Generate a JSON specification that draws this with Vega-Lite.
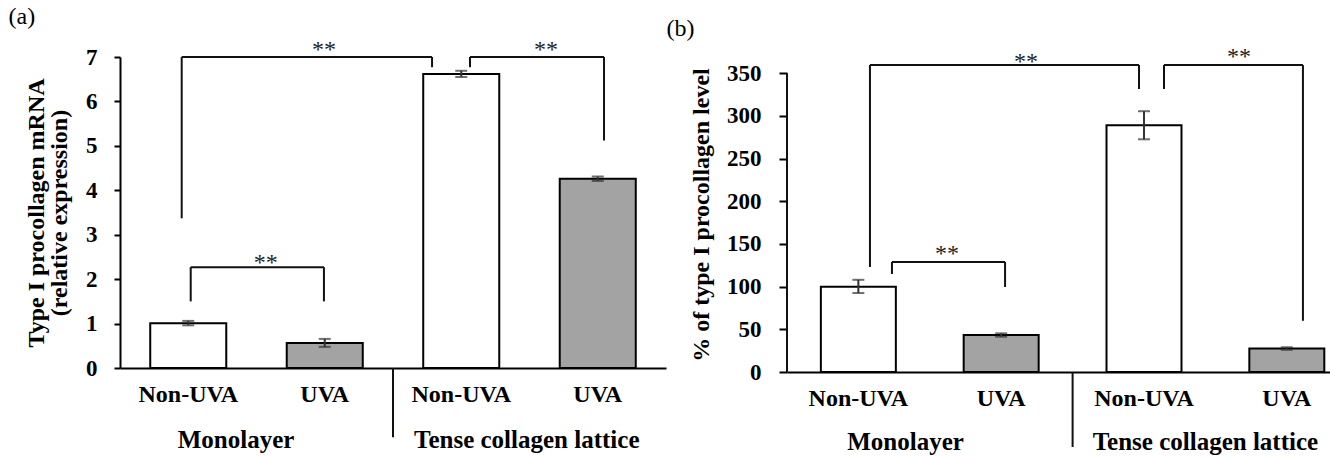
{
  "$schema": "https://vega.github.io/schema/vega-lite/v6.json",
  "background": "white",
  "padding": {"left": 8, "top": 5, "right": 0, "bottom": 0},
  "config": {"font": "Liberation Serif", "view": {"stroke": null}},
  "spacing": 0,
  "datasets": {
    "a_bars": [
      {"bar": "Monolayer|Non-UVA", "uv": "Non-UVA", "mean": 1.01, "lo": 0.96, "hi": 1.06},
      {"bar": "Monolayer|UVA", "uv": "UVA", "mean": 0.565, "lo": 0.475, "hi": 0.655},
      {"bar": "Tense collagen lattice|Non-UVA", "uv": "Non-UVA", "mean": 6.62, "lo": 6.55, "hi": 6.69},
      {"bar": "Tense collagen lattice|UVA", "uv": "UVA", "mean": 4.26, "lo": 4.21, "hi": 4.31}
    ],
    "a_seg": [
      {"x1": 0.452, "x2": 0.452, "y1": 3.37, "y2": 7.0},
      {"x1": 0.452, "x2": 2.286, "y1": 7.0, "y2": 7.0},
      {"x1": 2.286, "x2": 2.286, "y1": 7.0, "y2": 6.77},
      {"x1": 2.564, "x2": 2.564, "y1": 6.77, "y2": 7.0},
      {"x1": 2.564, "x2": 3.546, "y1": 7.0, "y2": 7.0},
      {"x1": 3.546, "x2": 3.546, "y1": 7.0, "y2": 5.12},
      {"x1": 0.518, "x2": 0.518, "y1": 1.5, "y2": 2.27},
      {"x1": 0.518, "x2": 1.494, "y1": 2.27, "y2": 2.27},
      {"x1": 1.494, "x2": 1.494, "y1": 2.27, "y2": 1.5},
      {"x1": 2.0, "x2": 2.0, "y1": 0, "y2": -1.56}
    ],
    "a_stars": [
      {"x": 1.494, "y": 7.26, "t": "**"},
      {"x": 3.121, "y": 7.26, "t": "**"},
      {"x": 1.067, "y": 2.47, "t": "**"}
    ],
    "a_groups": [
      {"x": 0.85, "y": -1.63, "t": "Monolayer"},
      {"x": 2.98, "y": -1.63, "t": "Tense collagen lattice"}
    ],
    "b_bars": [
      {"bar": "Monolayer|Non-UVA", "uv": "Non-UVA", "mean": 100, "lo": 92.5, "hi": 108},
      {"bar": "Monolayer|UVA", "uv": "UVA", "mean": 43.3, "lo": 41.3, "hi": 45.3},
      {"bar": "Tense collagen lattice|Non-UVA", "uv": "Non-UVA", "mean": 289, "lo": 272.6, "hi": 305.5},
      {"bar": "Tense collagen lattice|UVA", "uv": "UVA", "mean": 27.5, "lo": 26, "hi": 29}
    ],
    "b_seg": [
      {"x1": 0, "x2": 0, "y1": 0, "y2": 350},
      {"x1": 0.581, "x2": 0.581, "y1": 123, "y2": 359.6},
      {"x1": 0.581, "x2": 2.465, "y1": 359.6, "y2": 359.6},
      {"x1": 2.465, "x2": 2.465, "y1": 359.6, "y2": 331.5},
      {"x1": 2.64, "x2": 2.64, "y1": 331.5, "y2": 359.6},
      {"x1": 2.64, "x2": 3.613, "y1": 359.6, "y2": 359.6},
      {"x1": 3.613, "x2": 3.613, "y1": 359.6, "y2": 60},
      {"x1": 0.735, "x2": 0.735, "y1": 114.8, "y2": 128.9},
      {"x1": 0.735, "x2": 1.527, "y1": 128.9, "y2": 128.9},
      {"x1": 1.527, "x2": 1.527, "y1": 128.9, "y2": 99.6},
      {"x1": 2.0, "x2": 2.0, "y1": 0, "y2": -87.9}
    ],
    "b_stars": [
      {"x": 1.674, "y": 369, "t": "**"},
      {"x": 3.165, "y": 374.8, "t": "**"},
      {"x": 1.12, "y": 144, "t": "**"}
    ],
    "b_groups": [
      {"x": 0.83, "y": -82, "t": "Monolayer"},
      {"x": 2.93, "y": -82, "t": "Tense collagen lattice"}
    ]
  },
  "hconcat": [
    {
      "width": 546,
      "height": 311,
      "title": {"text": "(a)", "anchor": "start", "frame": "bounds", "fontSize": 24, "fontWeight": "normal", "color": "#000", "dx": -16, "dy": -5},
      "resolve": {"scale": {"x": "independent"}, "axis": {"x": "independent"}},
      "layer": [
        {
          "data": {"name": "a_bars"},
          "encoding": {
            "x": {"field": "bar", "type": "nominal", "sort": null,
              "scale": {"paddingInner": 0.443, "paddingOuter": 0.2215},
              "axis": {"title": null, "labelExpr": "split(datum.label, '|')[1]", "labelAngle": 0, "labelFontSize": 24, "labelFontWeight": "bold", "labelColor": "#000", "labelPadding": 14, "ticks": false, "domainColor": "#000", "domainWidth": 2}}
          },
          "layer": [
            {
              "mark": {"type": "bar", "stroke": "#000", "strokeWidth": 2},
              "encoding": {
                "y": {"field": "mean", "type": "quantitative", "scale": {"domain": [0, 7], "nice": false},
                  "axis": {"title": ["Type I procollagen mRNA", "(relative expression)"], "titleFontSize": 24, "titleFontWeight": "bold", "titleColor": "#000", "titlePadding": 14, "titleLineHeight": 23,
                    "values": [0, 1, 2, 3, 4, 5, 6, 7], "labelFontSize": 23, "labelFontWeight": "bold", "labelColor": "#000", "labelPadding": 17,
                    "tickSize": 6, "tickWidth": 2, "tickColor": "#000", "domainColor": "#000", "domainWidth": 2, "grid": false}},
                "fill": {"field": "uv", "type": "nominal", "scale": {"domain": ["Non-UVA", "UVA"], "range": ["#ffffff", "#a3a3a3"]}, "legend": null}
              }
            },
            {
              "mark": {"type": "rule", "color": "#333", "strokeWidth": 2},
              "encoding": {"y": {"field": "lo", "type": "quantitative"}, "y2": {"field": "hi"}}
            },
            {
              "mark": {"type": "tick", "color": "#333", "size": 12, "thickness": 2},
              "encoding": {"y": {"field": "lo", "type": "quantitative"}}
            },
            {
              "mark": {"type": "tick", "color": "#333", "size": 12, "thickness": 2},
              "encoding": {"y": {"field": "hi", "type": "quantitative"}}
            }
          ]
        },
        {
          "layer": [
            {
              "data": {"name": "a_seg"},
              "mark": {"type": "rule", "color": "#111", "strokeWidth": 2},
              "encoding": {
                "x": {"field": "x1", "type": "quantitative", "scale": {"domain": [0, 4], "nice": false, "zero": false}, "axis": null},
                "x2": {"field": "x2"},
                "y": {"field": "y1", "type": "quantitative"},
                "y2": {"field": "y2"}
              }
            },
            {
              "data": {"name": "a_stars"},
              "mark": {"type": "text", "fontSize": 24, "color": "#222", "baseline": "middle", "dy": 5},
              "encoding": {
                "x": {"field": "x", "type": "quantitative", "axis": null},
                "y": {"field": "y", "type": "quantitative"},
                "text": {"field": "t"}
              }
            },
            {
              "data": {"name": "a_groups"},
              "mark": {"type": "text", "fontSize": 25, "fontWeight": "bold", "color": "#000", "baseline": "middle"},
              "encoding": {
                "x": {"field": "x", "type": "quantitative", "axis": null},
                "y": {"field": "y", "type": "quantitative"},
                "text": {"field": "t"}
              }
            }
          ]
        }
      ]
    },
    {
      "width": 548,
      "height": 315,
      "title": {"text": "(b)", "anchor": "start", "frame": "bounds", "fontSize": 24, "fontWeight": "normal", "color": "#000", "dx": -23},
      "resolve": {"scale": {"x": "independent"}, "axis": {"x": "independent"}},
      "layer": [
        {
          "data": {"name": "b_bars"},
          "encoding": {
            "x": {"field": "bar", "type": "nominal", "sort": null,
              "scale": {"paddingInner": 0.475, "paddingOuter": 0.156, "align": 0.76},
              "axis": {"title": null, "labelExpr": "split(datum.label, '|')[1]", "labelAngle": 0, "labelFontSize": 24, "labelFontWeight": "bold", "labelColor": "#000", "labelPadding": 14, "ticks": false, "domainColor": "#000", "domainWidth": 2}}
          },
          "layer": [
            {
              "mark": {"type": "bar", "stroke": "#000", "strokeWidth": 2},
              "encoding": {
                "y": {"field": "mean", "type": "quantitative", "scale": {"domain": [0, 369], "nice": false},
                  "axis": {"title": "% of type I procollagen level", "titleFontSize": 24, "titleFontWeight": "bold", "titleColor": "#000", "titlePadding": 13,
                    "values": [0, 50, 100, 150, 200, 250, 300, 350], "labelFontSize": 23, "labelFontWeight": "bold", "labelColor": "#000", "labelPadding": 18,
                    "tickSize": 8, "tickWidth": 2, "tickColor": "#000", "domain": false, "grid": false}},
                "fill": {"field": "uv", "type": "nominal", "scale": {"domain": ["Non-UVA", "UVA"], "range": ["#ffffff", "#a3a3a3"]}, "legend": null}
              }
            },
            {
              "mark": {"type": "rule", "color": "#333", "strokeWidth": 2},
              "encoding": {"y": {"field": "lo", "type": "quantitative"}, "y2": {"field": "hi"}}
            },
            {
              "mark": {"type": "tick", "color": "#333", "size": 12, "thickness": 2},
              "encoding": {"y": {"field": "lo", "type": "quantitative"}}
            },
            {
              "mark": {"type": "tick", "color": "#333", "size": 12, "thickness": 2},
              "encoding": {"y": {"field": "hi", "type": "quantitative"}}
            }
          ]
        },
        {
          "layer": [
            {
              "data": {"name": "b_seg"},
              "mark": {"type": "rule", "color": "#111", "strokeWidth": 2},
              "encoding": {
                "x": {"field": "x1", "type": "quantitative", "scale": {"domain": [0, 3.8375], "nice": false, "zero": false}, "axis": null},
                "x2": {"field": "x2"},
                "y": {"field": "y1", "type": "quantitative"},
                "y2": {"field": "y2"}
              }
            },
            {
              "data": {"name": "b_stars"},
              "mark": {"type": "text", "fontSize": 24, "color": "#222", "baseline": "middle", "dy": 5},
              "encoding": {
                "x": {"field": "x", "type": "quantitative", "axis": null},
                "y": {"field": "y", "type": "quantitative"},
                "text": {"field": "t"}
              }
            },
            {
              "data": {"name": "b_groups"},
              "mark": {"type": "text", "fontSize": 25, "fontWeight": "bold", "color": "#000", "baseline": "middle"},
              "encoding": {
                "x": {"field": "x", "type": "quantitative", "axis": null},
                "y": {"field": "y", "type": "quantitative"},
                "text": {"field": "t"}
              }
            }
          ]
        }
      ]
    }
  ]
}
